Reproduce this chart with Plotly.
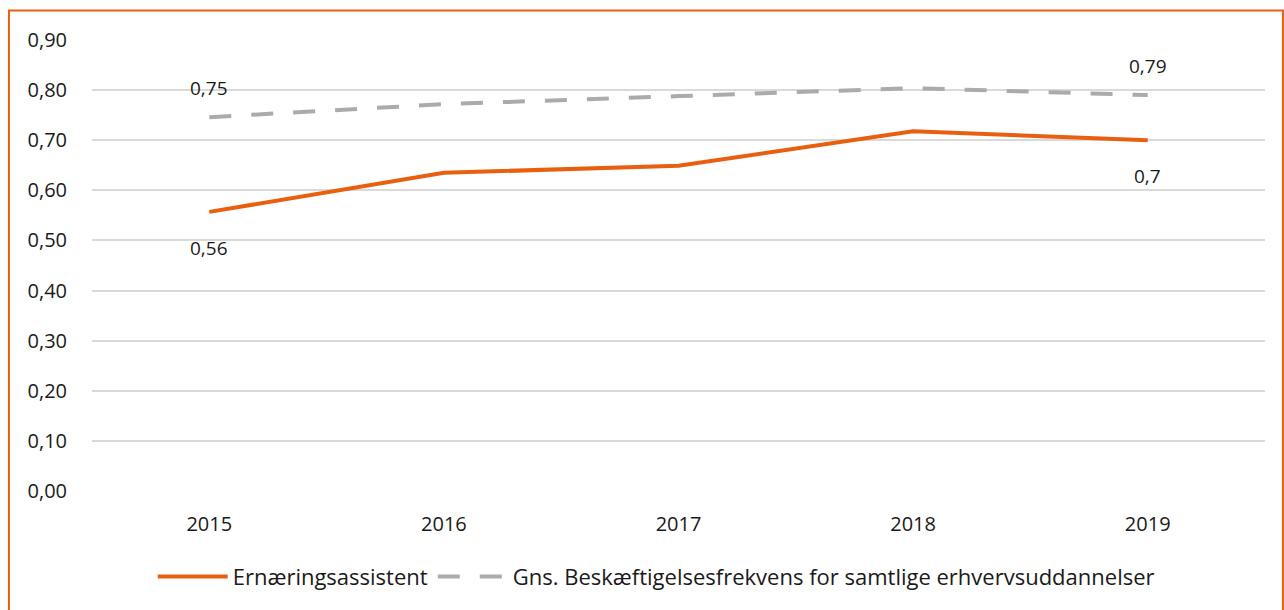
import plotly.graph_objects as go

YEARS = ["2015", "2016", "2017", "2018", "2019"]
ERNAERING = [0.557, 0.635, 0.649, 0.718, 0.70]
GNS = [0.746, 0.772, 0.788, 0.804, 0.79]
Y_TICKS = [0.0, 0.1, 0.2, 0.3, 0.4, 0.5, 0.6, 0.7, 0.8, 0.9]

ORANGE = "#E8600F"
GRAY = "#ABABAB"
FONT = "Open Sans, Noto Sans, sans-serif"


def label(v):
    return f"{round(v, 2):g}".replace(".", ",")


fig = go.Figure()
fig.add_trace(go.Scatter(
    x=YEARS, y=ERNAERING, mode="lines", name="Ernæringsassistent",
    line={"color": ORANGE, "width": 4},
))
fig.add_trace(go.Scatter(
    x=YEARS, y=GNS, mode="lines",
    name="Gns. Beskæftigelsesfrekvens for samtlige erhvervsuddannelser",
    line={"color": GRAY, "width": 4, "dash": "22px,20px"},
))

# data labels on first and last point only (x as category index)
for i in (0, len(YEARS) - 1):
    fig.add_annotation(x=i, y=ERNAERING[i], text=label(ERNAERING[i]),
                       showarrow=False, yshift=-36, font={"size": 19})
    fig.add_annotation(x=i, y=GNS[i], text=label(GNS[i]),
                       showarrow=False, yshift=29, font={"size": 19})

# orange frame around the chart
fig.add_shape(type="rect", xref="paper", yref="paper",
              x0=-0.0708, x1=1.0153, y0=-0.3, y1=1.0654,
              line={"color": ORANGE, "width": 2}, fillcolor="rgba(0,0,0,0)", layer="below")

fig.update_layout(
    width=1284, height=610,
    paper_bgcolor="white", plot_bgcolor="white",
    separators=", ",
    font={"family": FONT, "size": 20, "color": "#1a1a1a"},
    margin={"l": 92, "r": 19, "t": 40, "b": 119},
    showlegend=True,
    legend={"orientation": "h", "x": 0.481, "xanchor": "center", "y": -0.19, "yanchor": "middle",
            "font": {"size": 22}, "itemwidth": 70, "tracegroupgap": 0},
)
fig.update_xaxes(type="category", range=[-0.5, 4.5], showgrid=False, showline=False,
                 ticks="", ticklabelstandoff=19)
fig.update_yaxes(range=[0, 0.9], tickvals=Y_TICKS, tickformat=".2f", showgrid=True,
                 gridcolor="#D9D9D9", gridwidth=2, zeroline=False, showline=False,
                 ticks="", ticklabelstandoff=24)

fig.write_html("out.html", config={"displayModeBar": False},
               post_script="document.body.style.margin = '0';")
